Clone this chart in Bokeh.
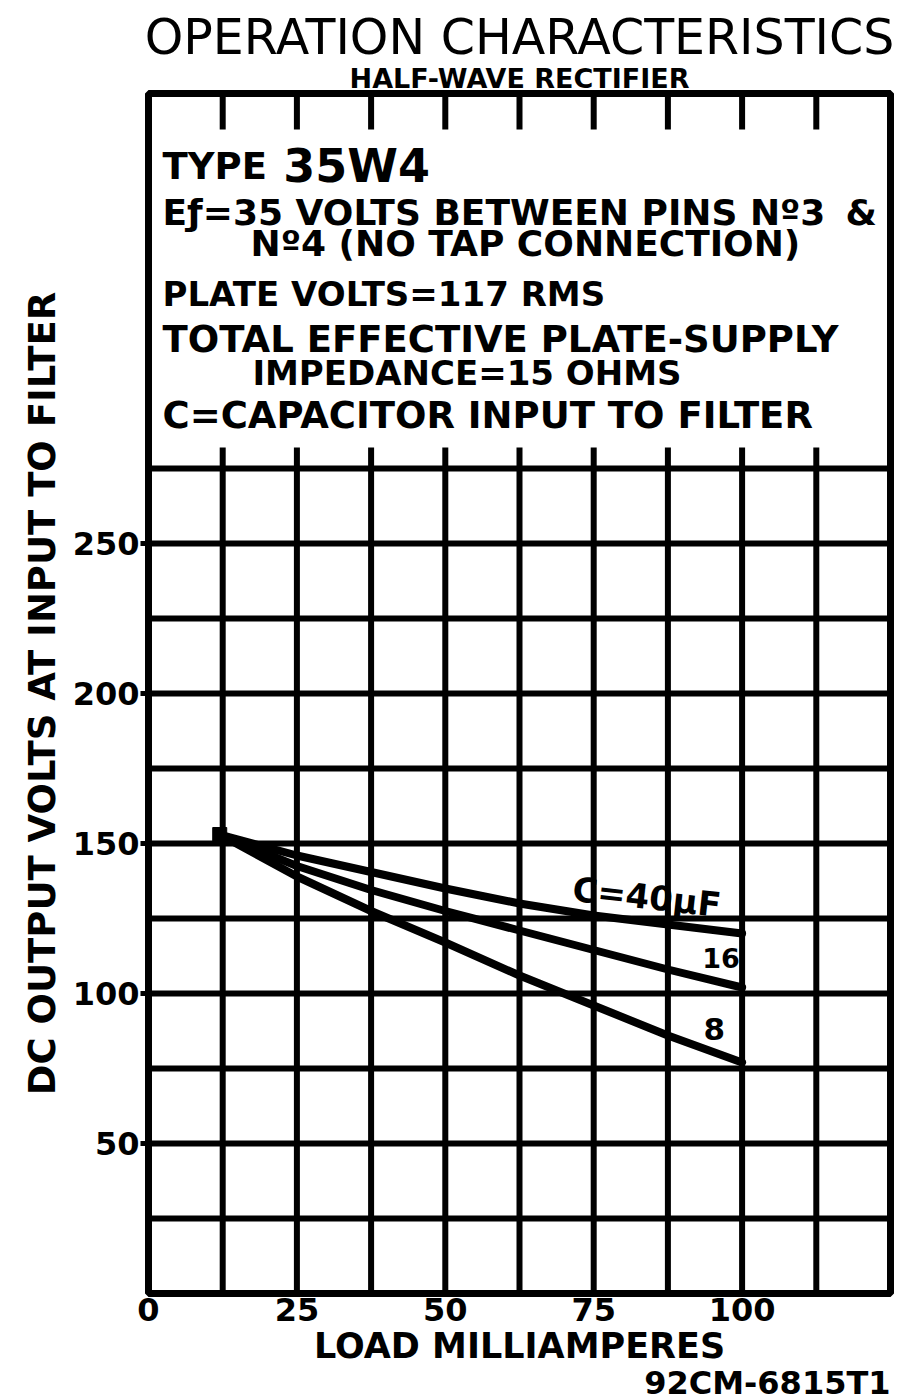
from bokeh.plotting import figure
from bokeh.models import Range1d, FixedTicker, Label, Title
from bokeh.embed import file_html
from bokeh.resources import INLINE

# ---- data ----
load_ma = [12, 25, 37.5, 50, 62.5, 75, 87.5, 100]
volts_40uf = [153, 146, 140.5, 135, 130, 126, 123, 120]
volts_16uf = [153, 142.5, 134.5, 127.5, 121, 114.5, 108, 102]
volts_8uf = [153, 139, 127.5, 117, 106, 96, 86, 77]
curve_labels = ["C=40µF", "16", "8"]

x_ticks = [0, 25, 50, 75, 100]
y_ticks = [50, 100, 150, 200, 250]
x_grid = [12.5, 25, 37.5, 50, 62.5, 75, 87.5, 100, 112.5]
y_grid = [25, 50, 75, 100, 125, 150, 175, 200, 225, 250, 275]

X_MAX = 125
Y_MAX = 400
BOX_BOTTOM = 275

FONT = "DejaVu Sans"

p = figure(width=904, height=1400,
           x_range=Range1d(0, X_MAX), y_range=Range1d(0, Y_MAX),
           output_backend="svg", toolbar_location=None,
           min_border_left=148, min_border_right=14,
           min_border_top=93, min_border_bottom=107)
p.background_fill_color = "white"
p.border_fill_color = "white"
p.outline_line_color = "black"
p.outline_line_width = 7
p.xgrid.visible = False
p.ygrid.visible = False
p.title.visible = False

# grid (full below the text box, stubs inside the box)
n = len(x_grid)
p.segment(x0=x_grid, y0=[0] * n, x1=x_grid, y1=[BOX_BOTTOM + 7] * n,
          line_width=6, line_color="black")
p.segment(x0=x_grid, y0=[Y_MAX] * n, x1=x_grid, y1=[Y_MAX - 12] * n,
          line_width=6, line_color="black")
m = len(y_grid)
p.segment(x0=[0] * m, y0=y_grid, x1=[X_MAX] * m, y1=y_grid,
          line_width=6, line_color="black")

# curves
for ys in (volts_40uf, volts_16uf, volts_8uf):
    p.line(load_ma, ys, line_width=8, line_color="black",
           line_join="round", line_cap="round")
p.scatter([load_ma[0]], [volts_40uf[0]], marker="square", size=14,
          color="black")

# axes
for ax in (p.xaxis[0], p.yaxis[0]):
    ax.axis_line_color = None
    ax.minor_tick_line_color = None
    ax.major_label_text_font = FONT
    ax.major_label_text_font_style = "bold"
    ax.major_label_text_font_size = "32px"
    ax.major_label_text_color = "black"
    ax.axis_label_text_font = FONT
    ax.axis_label_text_font_style = "bold"
    ax.axis_label_text_color = "black"

p.xaxis.ticker = FixedTicker(ticks=x_ticks)
p.xaxis.major_tick_line_color = None
p.xaxis.major_tick_out = 0
p.xaxis.major_tick_in = 0
p.xaxis.major_label_standoff = 4
p.xaxis.axis_label = "LOAD MILLIAMPERES"
p.xaxis.axis_label_text_font_size = "35px"
p.xaxis.axis_label_standoff = 2

p.yaxis.ticker = FixedTicker(ticks=y_ticks)
p.yaxis.major_tick_line_color = "black"
p.yaxis.major_tick_line_width = 5
p.yaxis.major_tick_out = 8
p.yaxis.major_tick_in = 0
p.yaxis.major_label_standoff = 1
p.yaxis.major_label_orientation = "horizontal"
p.yaxis.axis_label = "DC OUTPUT VOLTS AT INPUT TO FILTER"
p.yaxis.axis_label_text_font_size = "37px"
p.yaxis.axis_label_standoff = 6

# titles above the frame (first added sits closest to the frame)
p.add_layout(Title(text="HALF-WAVE RECTIFIER", align="center",
                   text_font=FONT, text_font_size="27px",
                   text_font_style="bold", text_color="black",
                   standoff=0), "above")
p.add_layout(Title(text="OPERATION CHARACTERISTICS", align="center",
                   text_font=FONT, text_font_size="49px",
                   text_font_style="normal", text_color="black",
                   standoff=-10), "above")
# drawing number below
p.add_layout(Title(text="92CM-6815T1", align="right",
                   text_font=FONT, text_font_size="32px",
                   text_font_style="bold", text_color="black",
                   standoff=-14), "below")


def lab(x, y, text, size, align="left", style="bold", angle=0.0,
        baseline="middle"):
    p.add_layout(Label(x=x, y=y, text=text, text_font=FONT,
                       text_font_size=size, text_font_style=style,
                       text_color="black", text_align=align,
                       text_baseline=baseline, angle=angle))


# text box
lab(2.36, 375.7, "TYPE", "37px")
lab(22.7, 375.7, "35W4", "46px")
lab(2.36, 360.3, "Eƒ=35 VOLTS BETWEEN PINS Nº3", "36px")
lab(117.4, 360.3, "&", "36px")
lab(17.2, 350.0, "Nº4 (NO TAP CONNECTION)", "36px")
lab(2.36, 333.3, "PLATE VOLTS=117 RMS", "34px")
lab(2.36, 318.0, "TOTAL EFFECTIVE PLATE-SUPPLY", "37px")
lab(17.5, 307.0, "IMPEDANCE=15 OHMS", "34px")
lab(2.36, 292.7, "C=CAPACITOR INPUT TO FILTER", "37px")

# curve labels
lab(71.1, 128.3, curve_labels[0], "34px", angle=-0.11, baseline="bottom")
lab(93.3, 111.7, curve_labels[1], "27px")
lab(93.5, 88.3, curve_labels[2], "31px")

open("out.html", "w").write(file_html(p, INLINE))
